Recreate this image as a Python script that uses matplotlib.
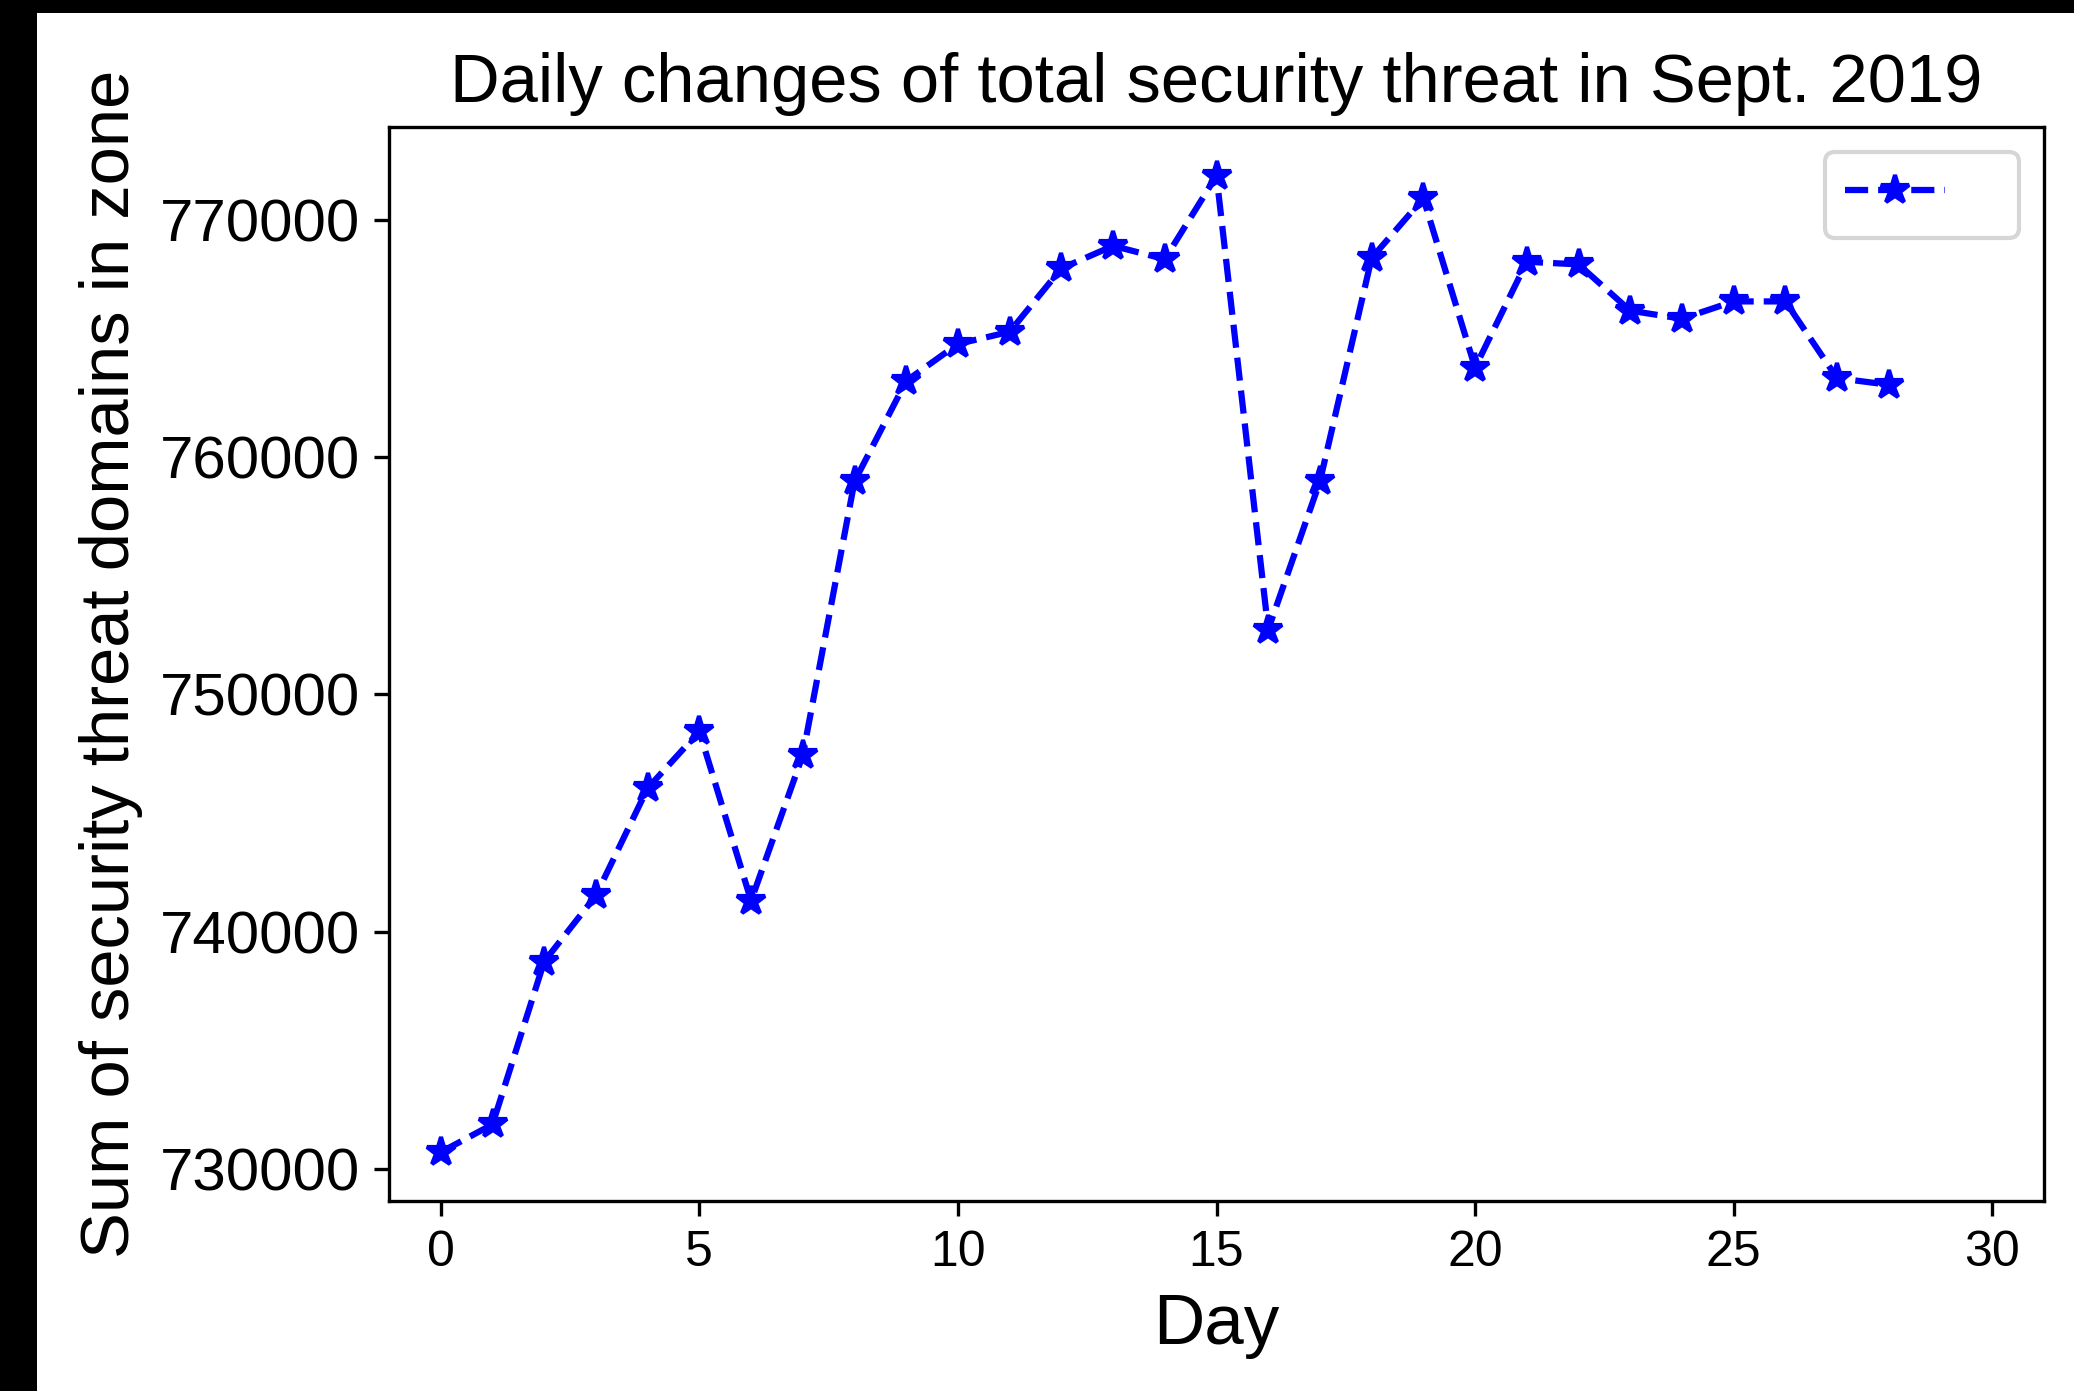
import matplotlib
matplotlib.use("Agg")
import matplotlib.pyplot as plt
from matplotlib.patches import Rectangle

plt.rcParams['font.family'] = ['Liberation Sans', 'DejaVu Sans']

# daily totals
days = list(range(29))
threat_totals = [730720, 731890, 738750, 741530, 746050, 748440, 741310, 747440,
                 758970, 763200, 764760, 765270, 767940, 768890, 768330, 771840,
                 752730, 758970, 768380, 770890, 763760, 768220, 768110, 766160,
                 765820, 766550, 766550, 763320, 763040]

fig = plt.figure(figsize=(2074 / 300, 1391 / 300), dpi=300, facecolor='black')
# white page shifted right/down, leaving a black strip like the source image
fig.patches.append(Rectangle((37 / 2074, 0), 1, 1 - 13 / 1391,
                             transform=fig.transFigure, facecolor='white',
                             edgecolor='none', zorder=-1))

ax = fig.add_axes([0.1876, 0.1366, 0.7979, 0.7721])
ax.plot(days, threat_totals, 'b--*', markersize=7, label=' ')
ax.set_xlim(-1, 31)
ax.set_title('Daily changes of total security threat in Sept. 2019', fontsize=16.5)
ax.set_xlabel('Day', fontsize=17)
ax.set_ylabel('Sum of security threat domains in zone', fontsize=16.5)
ax.tick_params(axis='x', labelsize=12)
ax.tick_params(axis='y', labelsize=14.4)
ax.legend(loc='upper right', fontsize=12)

fig.savefig('out.png', dpi=300, facecolor=fig.get_facecolor())
